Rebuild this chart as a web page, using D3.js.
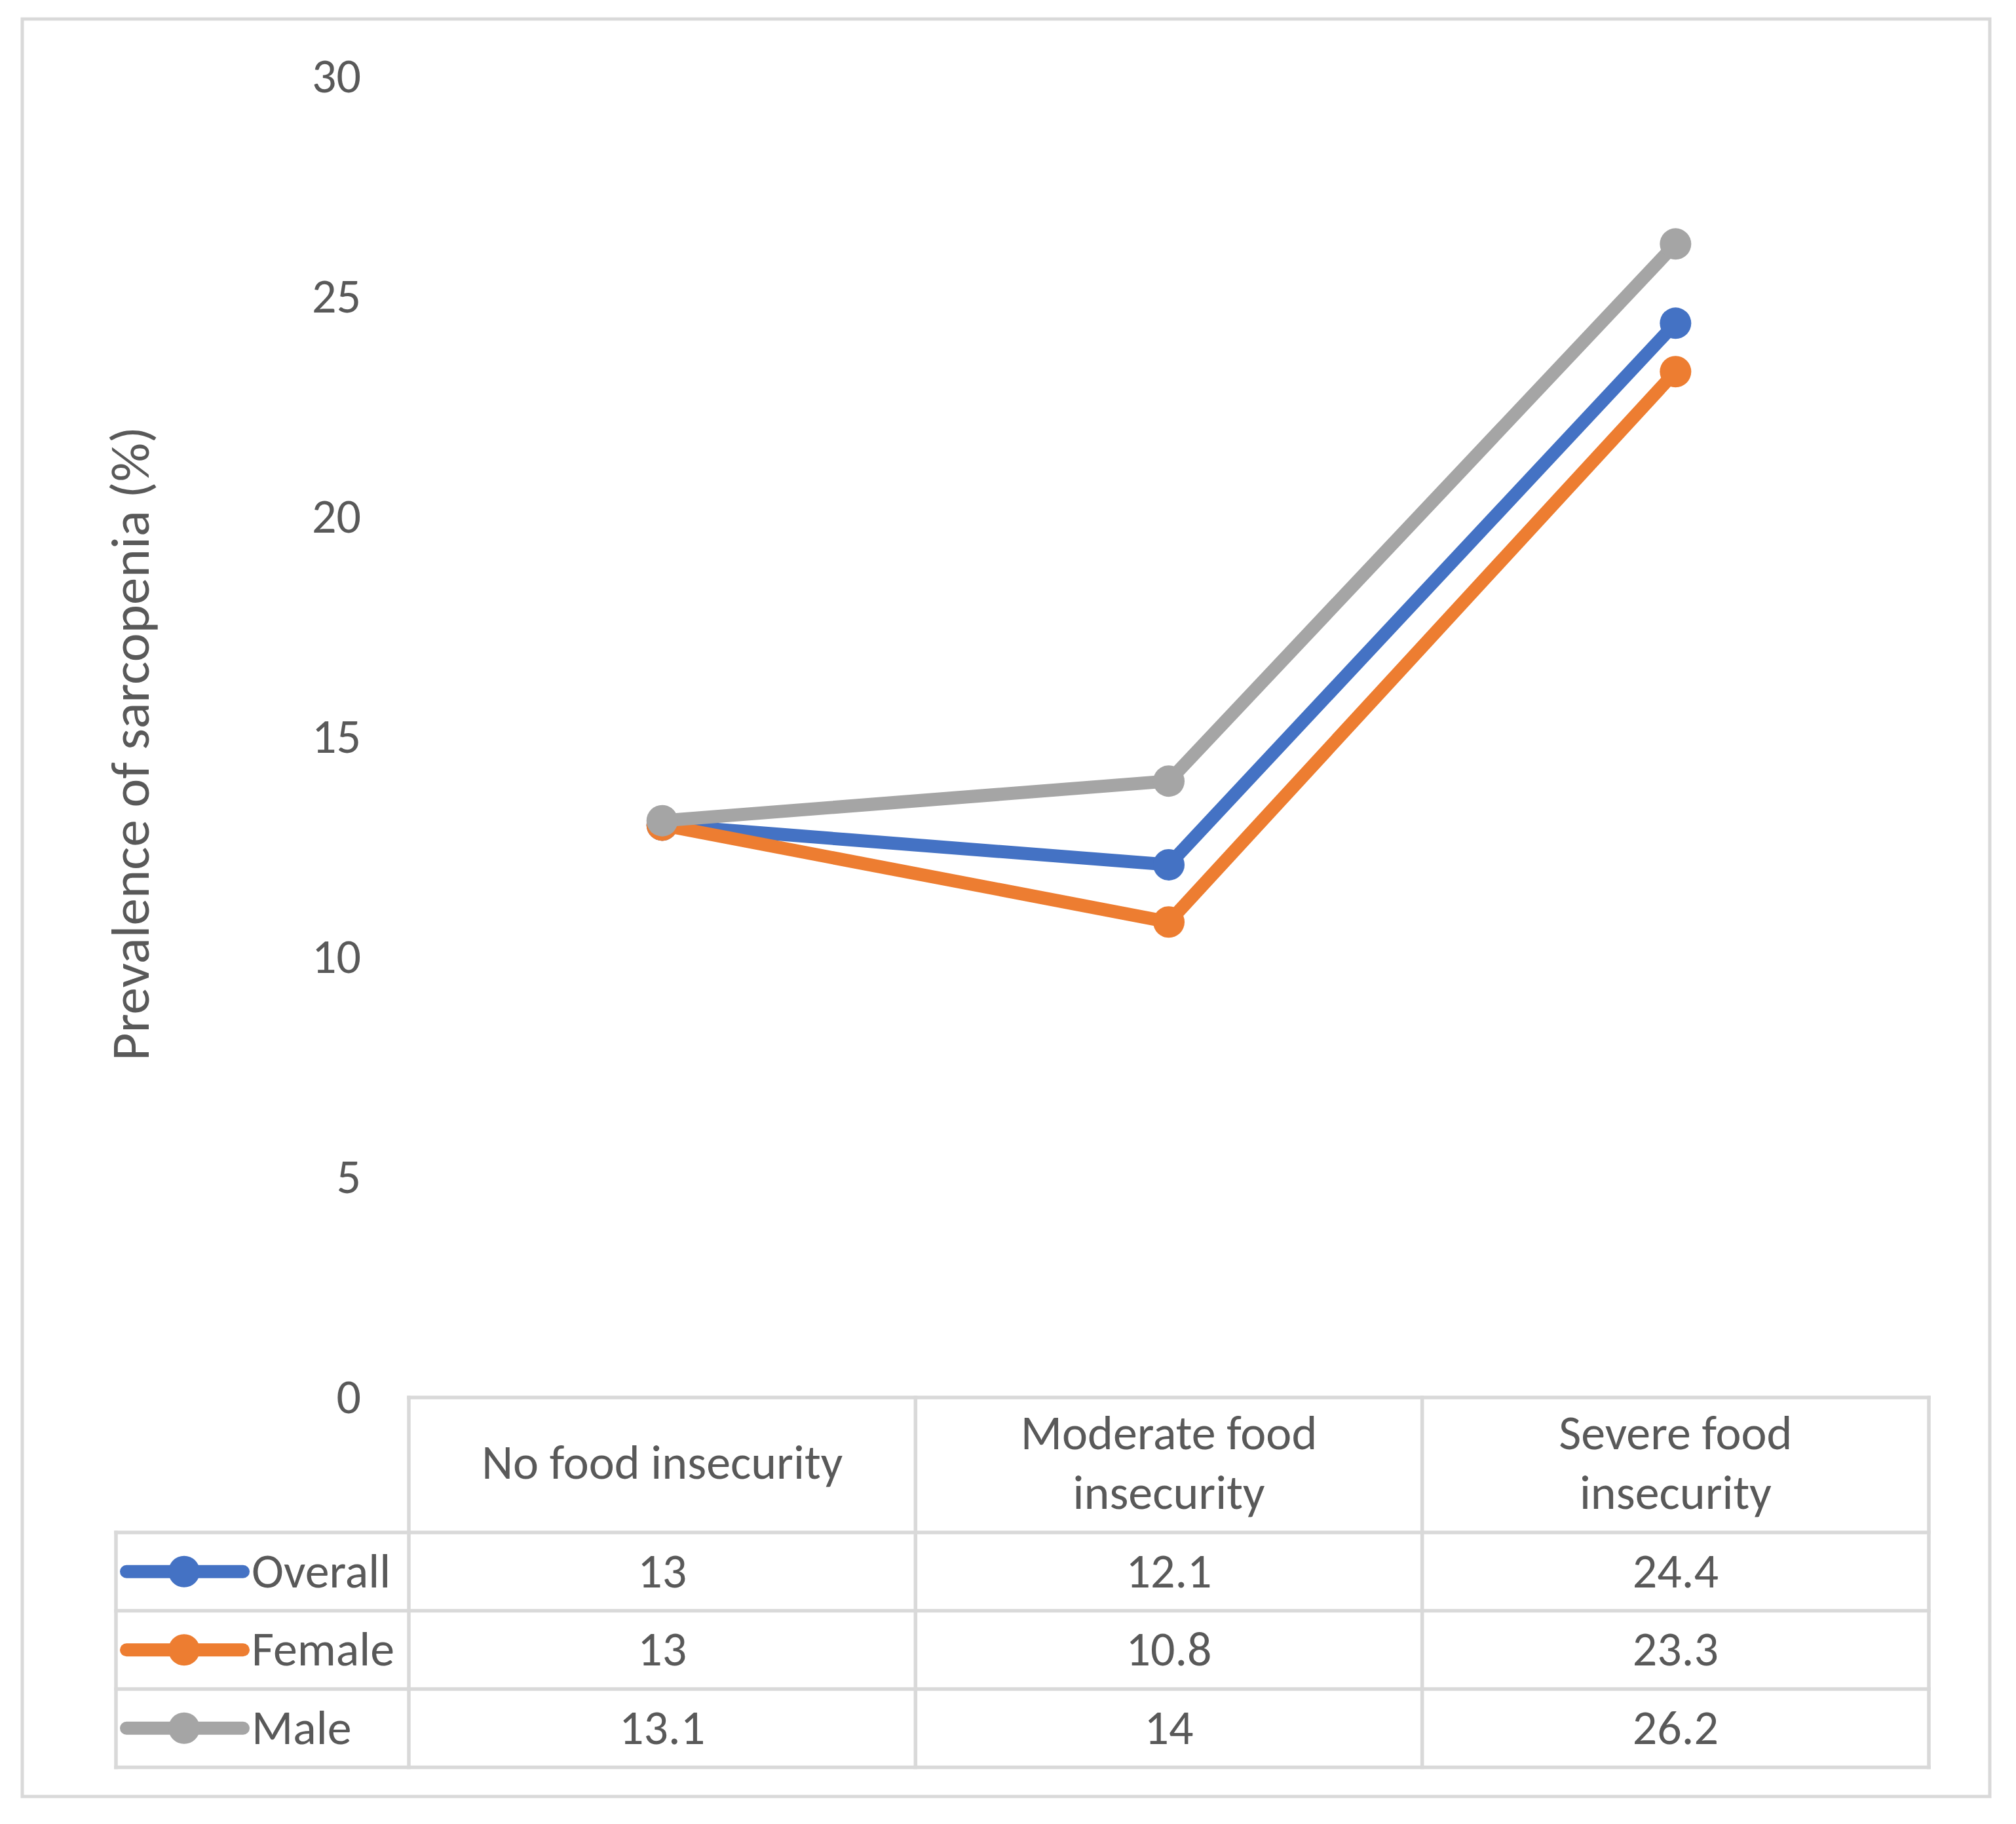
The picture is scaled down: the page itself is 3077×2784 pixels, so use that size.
<!DOCTYPE html>
<html>
<head>
<meta charset="utf-8">
<script src="https://cdn.jsdelivr.net/npm/d3@7"></script>
<style>
  body { margin: 0; background: #fff; }
  text { font-family: Carlito, Calibri, Lato, sans-serif; fill: #595959; }
</style>
</head>
<body>
<div id="chart"></div>
<script>
// data
var categories = ["No food insecurity", "Moderate food insecurity", "Severe food insecurity"];
var headerLines = [["No food insecurity"], ["Moderate food", "insecurity"], ["Severe food", "insecurity"]];
var seriesNames = ["Overall", "Female", "Male"];
var overall = [13, 12.1, 24.4];
var female = [13, 10.8, 23.3];
var male = [13.1, 14, 26.2];
var yTicks = [0, 5, 10, 15, 20, 25, 30];
var yLabel = "Prevalence of sarcopenia (%)";

var colors = ["#4472C4", "#ED7D31", "#A5A5A5"];
var allSeries = [overall, female, male];

var svgWidth = 3077;
var svgHeight = 2784;

// plot area
var plot = { left: 624, right: 2944, top: 117, bottom: 2133 };

// table layout
var legendLeft = 177;
var headerH = 206;
var rowH = 119.5;
var gridColor = "#d9d9d9";

var svg = d3.select("#chart")
    .append("svg")
    .attr("width", svgWidth)
    .attr("height", svgHeight);

svg.append("rect")
    .attr("width", svgWidth)
    .attr("height", svgHeight)
    .attr("fill", "#fff");

// outer frame
svg.append("rect")
    .attr("x", 34)
    .attr("y", 29)
    .attr("width", 3003)
    .attr("height", 2713)
    .attr("fill", "none")
    .attr("stroke", gridColor)
    .attr("stroke-width", 5);

var x = d3.scaleBand()
    .domain(categories)
    .range([plot.left, plot.right])
    .padding(0);

var y = d3.scaleLinear()
    .domain([0, 30])
    .range([plot.bottom, plot.top]);

// y axis, no line, no ticks
var yAxisG = svg.append("g")
    .attr("transform", `translate(${plot.left},0)`)
    .call(d3.axisLeft(y).tickValues(yTicks).tickSize(0).tickPadding(73));
yAxisG.select(".domain").remove();
yAxisG.selectAll("text")
    .attr("font-size", 74)
    .attr("fill", "#595959")
    .style("font-family", "Carlito, Calibri, Lato, sans-serif");

svg.append("text")
    .attr("transform", `translate(198, ${(plot.top + plot.bottom) / 2 + 10}) rotate(-90)`)
    .attr("text-anchor", "middle")
    .attr("dominant-baseline", "central")
    .attr("font-size", 83)
    .text(yLabel);

// table grid
var tableTop = y(0);
var rowTops = [tableTop + headerH];
for (var i = 1; i <= seriesNames.length; i++) rowTops.push(rowTops[0] + i * rowH);
var tableBottom = rowTops[rowTops.length - 1];

var grid = svg.append("g")
    .attr("stroke", gridColor)
    .attr("stroke-width", 5.5)
    .attr("stroke-linecap", "square");

grid.append("line")
    .attr("x1", plot.left).attr("x2", plot.right)
    .attr("y1", tableTop).attr("y2", tableTop);

rowTops.forEach(function (ry) {
    grid.append("line")
        .attr("x1", legendLeft).attr("x2", plot.right)
        .attr("y1", ry).attr("y2", ry);
});

var colEdges = categories.map(c => x(c)).concat([x.range()[1]]);
colEdges.forEach(function (cx) {
    grid.append("line")
        .attr("x1", cx).attr("x2", cx)
        .attr("y1", tableTop).attr("y2", tableBottom);
});
grid.append("line")
    .attr("x1", legendLeft).attr("x2", legendLeft)
    .attr("y1", rowTops[0]).attr("y2", tableBottom);

// header labels
var lineGap = 91;
categories.forEach(function (c, ci) {
    var lines = headerLines[ci];
    var cx = x(c) + x.bandwidth() / 2;
    var mid = tableTop + headerH / 2 + 21;
    var firstY = mid - (lines.length - 1) * lineGap / 2;
    lines.forEach(function (ln, li) {
        svg.append("text")
            .attr("x", cx)
            .attr("y", firstY + li * lineGap)
            .attr("text-anchor", "middle")
            .attr("font-size", 74)
            .text(ln);
    });
});

// series lines and markers
var line = d3.line()
    .x((d, i) => x(categories[i]) + x.bandwidth() / 2)
    .y(d => y(d));

allSeries.forEach(function (vals, si) {
    var g = svg.append("g");
    g.append("path")
        .datum(vals)
        .attr("d", line)
        .attr("fill", "none")
        .attr("stroke", colors[si])
        .attr("stroke-width", 20)
        .attr("stroke-linejoin", "round")
        .attr("stroke-linecap", "round");
    g.selectAll("circle")
        .data(vals)
        .enter()
        .append("circle")
        .attr("cx", (d, i) => x(categories[i]) + x.bandwidth() / 2)
        .attr("cy", d => y(d))
        .attr("r", 24)
        .attr("fill", colors[si]);
});

// table rows: legend key + values
seriesNames.forEach(function (name, si) {
    var cy = rowTops[si] + rowH / 2;
    var row = svg.append("g");
    row.append("line")
        .attr("x1", 193).attr("x2", 371)
        .attr("y1", cy).attr("y2", cy)
        .attr("stroke", colors[si])
        .attr("stroke-width", 20)
        .attr("stroke-linecap", "round");
    row.append("circle")
        .attr("cx", 281).attr("cy", cy)
        .attr("r", 24)
        .attr("fill", colors[si]);
    row.append("text")
        .attr("x", 384)
        .attr("y", cy + 24)
        .attr("font-size", 74)
        .text(name);
    row.selectAll(".val")
        .data(allSeries[si])
        .enter()
        .append("text")
        .attr("class", "val")
        .attr("x", (d, i) => x(categories[i]) + x.bandwidth() / 2)
        .attr("y", cy + 24)
        .attr("text-anchor", "middle")
        .attr("font-size", 74)
        .text(d => d);
});
</script>
</body>
</html>
